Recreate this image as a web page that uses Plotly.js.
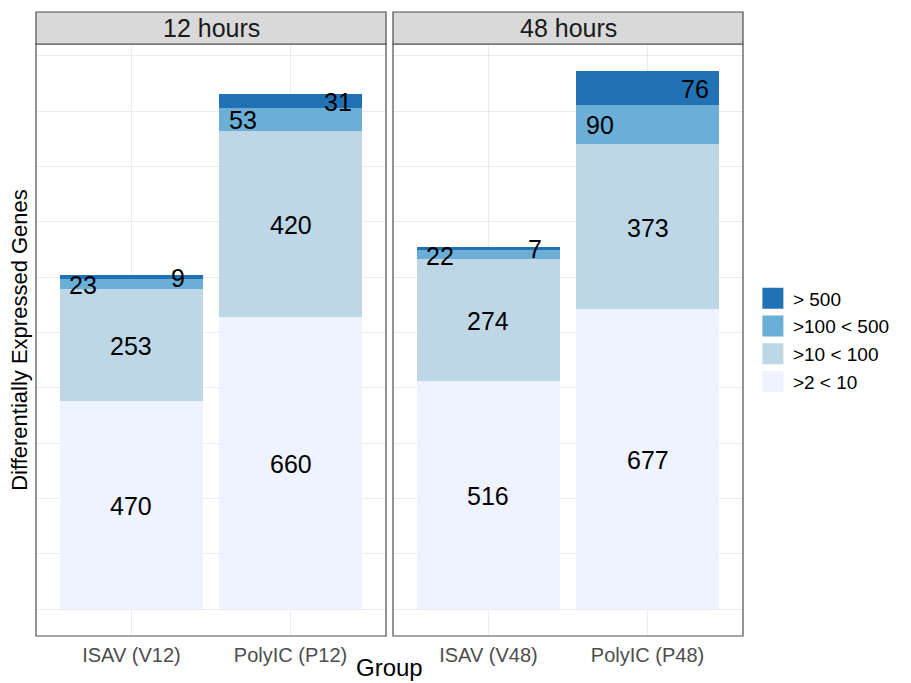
<!DOCTYPE html>
<html>
<head>
<meta charset="utf-8">
<script src="https://cdn.plot.ly/plotly-3.0.1.min.js"></script>
<style>html,body{margin:0;padding:0;background:#fff;}#chart{width:911px;height:683px;}</style>
</head>
<body>
<div id="chart"></div>
<script>
// ---- data ----
const facetLabels = ['12 hours', '48 hours'];
const groups12 = ['ISAV (V12)', 'PolyIC (P12)'];
const groups48 = ['ISAV (V48)', 'PolyIC (P48)'];
const classNames = ['>2 < 10', '>10 < 100', '>100 < 500', '> 500'];
const h12_2to10 = [470, 660];
const h12_10to100 = [253, 420];
const h12_100to500 = [23, 53];
const h12_over500 = [9, 31];
const h48_2to10 = [516, 677];
const h48_10to100 = [274, 373];
const h48_100to500 = [22, 90];
const h48_over500 = [7, 76];

// ---- styles ----
const classColors = ['#eff3ff', '#bdd7e7', '#6baed6', '#2171b5'];
const labelShift = [0, 0, -48, 47];
const FONT = 'Liberation Sans, Arial, sans-serif';

const panels = [
  {groups: groups12, series: [h12_2to10, h12_10to100, h12_100to500, h12_over500], xa: 'x', ya: 'y'},
  {groups: groups48, series: [h48_2to10, h48_10to100, h48_100to500, h48_over500], xa: 'x2', ya: 'y2'}
];

const traces = [];
const annotations = [];
panels.forEach((p, pi) => {
  const cum = p.groups.map(() => 0);
  p.series.forEach((vals, ci) => {
    traces.push({
      type: 'bar', x: p.groups, y: vals, name: classNames[ci],
      xaxis: p.xa, yaxis: p.ya, width: 0.9,
      marker: {color: classColors[ci], line: {width: 0}},
      showlegend: false, hoverinfo: 'skip'
    });
    vals.forEach((v, gi) => {
      annotations.push({
        xref: p.xa, yref: p.ya, x: p.groups[gi], y: cum[gi] + v / 2,
        text: String(v), showarrow: false, xshift: labelShift[ci], yshift: -1,
        font: {family: FONT, size: 25, color: '#000000'}
      });
      cum[gi] += v;
    });
  });
  annotations.push({
    xref: p.xa + ' domain', yref: 'paper', x: 0.5, y: 1 + 16 / 592, yanchor: 'middle',
    text: facetLabels[pi], showarrow: false,
    font: {family: FONT, size: 25, color: '#1a1a1a'}
  });
});

// legend entries (top to bottom)
for (let ci = classNames.length - 1; ci >= 0; ci--) {
  traces.push({
    type: 'scatter', mode: 'markers', x: [null], y: [null], name: classNames[ci],
    marker: {symbol: 'square', size: 16, color: classColors[ci], line: {width: 5, color: classColors[ci]}},
    showlegend: true, hoverinfo: 'skip'
  });
}

annotations.push({
  xref: 'paper', yref: 'paper', x: 0.5, y: (636 - 668) / 592, yanchor: 'middle',
  text: 'Group', showarrow: false, font: {family: FONT, size: 24, color: '#000000'}
});

const xBase = {
  type: 'category', range: [-0.6, 1.6], showgrid: true, gridcolor: '#ebebeb', gridwidth: 1,
  zeroline: false, showline: false, ticks: '', ticklabelstandoff: 5,
  tickfont: {family: FONT, size: 20, color: '#4d4d4d'}, fixedrange: true
};
const yBase = {
  range: [-60.8, 1276.8], tick0: 0, dtick: 125, showticklabels: false,
  showgrid: true, gridcolor: '#ebebeb', gridwidth: 1, zeroline: false, showline: false,
  ticks: '', fixedrange: true
};

const shapes = [];
['x', 'x2'].forEach((xa, i) => {
  const ya = i === 0 ? 'y' : 'y2';
  shapes.push({type: 'rect', xref: xa + ' domain', yref: ya + ' domain', x0: 0, x1: 1, y0: 0, y1: 1,
    line: {color: '#4d4d4d', width: 1.2}, fillcolor: 'rgba(0,0,0,0)', layer: 'above'});
  shapes.push({type: 'rect', xref: xa + ' domain', yref: 'paper', x0: 0, x1: 1, y0: 1, y1: 1 + 32 / 592,
    line: {color: '#4d4d4d', width: 1.2}, fillcolor: '#d9d9d9', layer: 'above'});
});

const layout = {
  width: 911, height: 683,
  margin: {l: 36, r: 168, t: 44, b: 47},
  paper_bgcolor: '#ffffff', plot_bgcolor: '#ffffff',
  font: {family: FONT},
  barmode: 'stack', showlegend: true,
  xaxis: Object.assign({}, xBase, {domain: [0, 350 / 707], anchor: 'y'}),
  xaxis2: Object.assign({}, xBase, {domain: [357 / 707, 1], anchor: 'y2'}),
  yaxis: Object.assign({}, yBase, {anchor: 'x',
    title: {text: 'Differentially Expressed Genes', font: {family: FONT, size: 22, color: '#000000'}, standoff: 1}}),
  yaxis2: Object.assign({}, yBase, {anchor: 'x2', matches: 'y'}),
  legend: {x: 1.014, xanchor: 'left', y: 0.5, yanchor: 'middle', traceorder: 'normal',
    font: {family: FONT, size: 19, color: '#000000'}, bgcolor: 'rgba(0,0,0,0)', tracegroupgap: 0},
  shapes: shapes,
  annotations: annotations
};

Plotly.newPlot('chart', traces, layout, {displayModeBar: false, staticPlot: true});
</script>
</body>
</html>
